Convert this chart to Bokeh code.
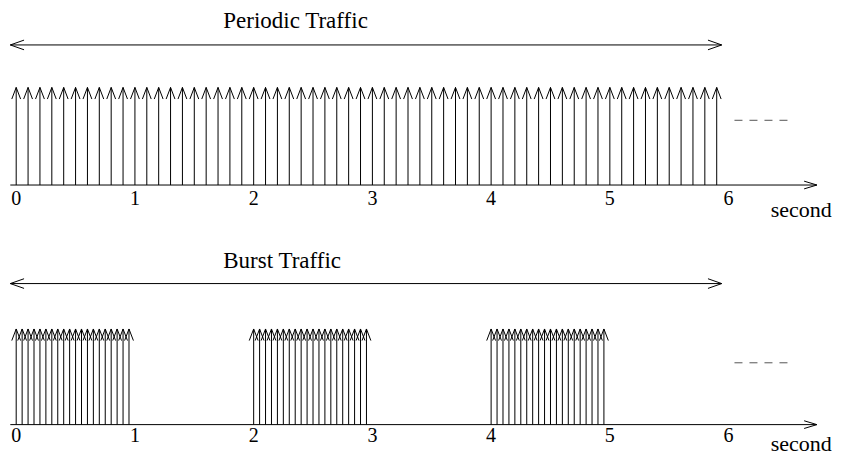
from bokeh.plotting import figure
from bokeh.models import Range1d
from bokeh.core.properties import value
from bokeh.embed import file_html
from bokeh.resources import INLINE

# ---- data (seconds) ----
periodic_times = [round(0.1 * i, 2) for i in range(60)]          # one packet every 0.1 s
burst_starts = [0.0, 2.0, 4.0]                                   # a burst every 2 s
burst_offsets = [round(0.05 * i, 2) for i in range(20)]          # 20 packets per burst
burst_times = [round(b + o, 2) for b in burst_starts for o in burst_offsets]
tick_values = [0, 1, 2, 3, 4, 5, 6]
tick_labels = ["0", "1", "2", "3", "4", "5", "6"]
panel_titles = ["Periodic Traffic", "Burst Traffic"]
unit_label = "second"

FONT = value("Liberation Serif")

# layout: a 853 x 472 drawing space squeezed into the 837 x 456 figure
REF_W, REF_H = 853, 472
W, H = 837, 456
PX_PER_S = 121.0          # horizontal scale of the drawing space
X0_PX = 16.0              # position of t = 0 in the drawing space
px = lambda n: n / PX_PER_S   # drawing-space pixels -> seconds
TS = 7.3                  # text baseline correction (drawing-space px)

p = figure(width=W, height=H,
           x_range=Range1d(-X0_PX / PX_PER_S, (REF_W - X0_PX) / PX_PER_S),
           y_range=Range1d(REF_H, 0),
           output_backend="svg", toolbar_location=None, min_border=0)
p.axis.visible = False
p.grid.visible = False
p.outline_line_color = None
p.background_fill_color = "white"
p.border_fill_color = "white"


def heads_up(xs, tip_y, half_w=4.5, length=12):
    return ([[x - px(half_w), x, x + px(half_w)] for x in xs],
            [[tip_y + length, tip_y, tip_y + length] for _ in xs])


def panel(times, axis_y, top_y, span_y, dash_y, title, title_y, unit_y, tick_y):
    # packet arrows (shafts + open heads)
    p.segment(x0=times, y0=[axis_y] * len(times), x1=times, y1=[top_y] * len(times),
              line_color="black", line_width=1)
    hx, hy = heads_up(times, top_y)
    p.multi_line(hx, hy, line_color="black", line_width=1)

    # time axis with open arrowhead
    ax0, ax1 = -px(6), px(816)
    p.line([ax0, ax1], [axis_y, axis_y], line_color="black", line_width=1)
    p.line([ax1 - px(13), ax1, ax1 - px(13)], [axis_y - 4, axis_y, axis_y + 4],
           line_color="black", line_width=1)

    # double-headed span arrow
    s0, s1 = -px(6), px(719)
    p.line([s0, s1], [span_y, span_y], line_color="black", line_width=1)
    p.line([s0 + px(14), s0, s0 + px(14)], [span_y - 5, span_y, span_y + 5],
           line_color="black", line_width=1)
    p.line([s1 - px(14), s1, s1 - px(14)], [span_y - 5, span_y, span_y + 5],
           line_color="black", line_width=1)

    # continuation dashes
    p.line([px(732), px(788)], [dash_y, dash_y], line_color="#555555",
           line_width=1, line_dash="8 7")

    # tick labels
    p.text(x=tick_values, y=[tick_y - TS] * len(tick_values), text=tick_labels,
           text_font=FONT, text_font_size="20px", text_align="center",
           text_baseline="alphabetic", text_color="black")
    # unit label
    p.text(x=[px(769)], y=[unit_y - TS], text=[unit_label], text_font=FONT,
           text_font_size="22px", text_align="left", text_baseline="alphabetic",
           text_color="black")
    # title
    p.text(x=[px(211)], y=[title_y - TS], text=[title], text_font=FONT,
           text_font_size="23px", text_align="left", text_baseline="alphabetic",
           text_color="black")


panel(periodic_times, 191, 90, 46, 124, panel_titles[0], 28, 224, 212)
panel(burst_times, 439, 340, 293, 375, panel_titles[1], 276, 466, 457)

open("out.html", "w").write(file_html(p, INLINE))
